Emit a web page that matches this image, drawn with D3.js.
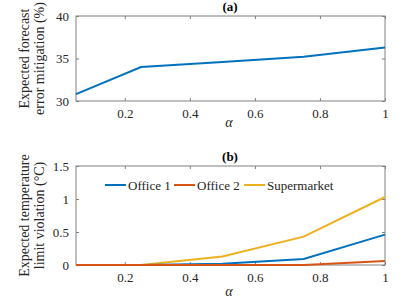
<!DOCTYPE html>
<html><head><meta charset="utf-8">
<script src="https://cdn.jsdelivr.net/npm/d3@7"></script>
<style>
body{margin:0;background:#fff;}
</style></head><body>
<svg id="c" width="403" height="301"></svg>
<script>
const alpha = [0.05, 0.25, 0.5, 0.75, 1];
const mitigation = [30.8, 34.0, 34.6, 35.2, 36.3];
const office1 = [0, 0, 0.02, 0.09, 0.46];
const office2 = [0, 0, 0, 0, 0.06];
const supermarket = [0, 0, 0.13, 0.43, 1.03];
const seriesNames = ["Office 1", "Office 2", "Supermarket"];
const seriesColors = ["#0072BD", "#D95319", "#EDB120"];
const xTicks = [0.2, 0.4, 0.6, 0.8, 1];
const yTicksA = [30, 35, 40];
const yTicksB = [0, 0.5, 1, 1.5];

const FONT = "'Liberation Serif', 'Times New Roman', Times, serif";
const svg = d3.select("#c");
const L = 76, R = 385;
const x = d3.scaleLinear().domain([0.05, 1]).range([L, R]);
const axisCol = "#262626";

function panel(top, bottom, yDomain, yTicks, title, ylab, series, alphaY) {
  const y = d3.scaleLinear().domain(yDomain).range([bottom, top]);
  const g = svg.append("g");
  g.append("rect").attr("x", L).attr("y", top).attr("width", R - L).attr("height", bottom - top)
    .attr("fill", "none").attr("stroke", "#808080").attr("stroke-width", 1);
  const ax = g.append("g").attr("transform", `translate(0,${bottom})`)
    .call(d3.axisBottom(x).tickValues(xTicks).tickSizeInner(-3).tickSizeOuter(0).tickPadding(8).tickFormat(d3.format("")));
  const axTop = g.append("g").attr("transform", `translate(0,${top})`)
    .call(d3.axisTop(x).tickValues(xTicks).tickSizeInner(-3).tickSizeOuter(0).tickFormat(""));
  const ay = g.append("g").attr("transform", `translate(${L},0)`)
    .call(d3.axisLeft(y).tickValues(yTicks).tickSizeInner(-3).tickSizeOuter(0).tickPadding(7).tickFormat(d3.format("")));
  const ayR = g.append("g").attr("transform", `translate(${R},0)`)
    .call(d3.axisRight(y).tickValues(yTicks).tickSizeInner(-3).tickSizeOuter(0).tickFormat(""));
  [ax, axTop, ay, ayR].forEach(a => {
    a.attr("font-family", FONT).attr("font-size", 13);
    a.select(".domain").remove();
    a.selectAll("line").attr("stroke", "#808080");
    a.selectAll("text").attr("fill", axisCol);
  });
  series.forEach(s => {
    g.append("path").datum(s.values.map((v, i) => [alpha[i], v]))
      .attr("fill", "none").attr("stroke", s.color).attr("stroke-width", 2)
      .attr("d", d3.line().x(d => x(d[0])).y(d => y(d[1])));
  });
  g.append("text").attr("x", 230).attr("y", top - 5).attr("text-anchor", "middle")
    .attr("font-family", FONT).attr("font-size", 13).attr("font-weight", "bold").attr("fill", "#000").text(title);
  const cy = (top + bottom) / 2;
  ylab.forEach((t, i) => {
    g.append("text").attr("transform", `translate(${29 + i * 15},${cy}) rotate(-90)`)
      .attr("text-anchor", "middle").attr("font-family", FONT).attr("font-size", 14).attr("fill", axisCol).text(t);
  });
  g.append("text").attr("x", 229).attr("y", alphaY).attr("text-anchor", "middle")
    .attr("font-family", FONT).attr("font-size", 14).attr("font-style", "italic").attr("fill", axisCol).text("α");
  return y;
}

panel(16, 101, [30, 40], yTicksA, "(a)", ["Expected forecast", "error mitigation (%)"],
  [{values: mitigation, color: seriesColors[0]}], 127);

const bVals = [office1, office2, supermarket];
panel(166, 265, [0, 1.5], yTicksB, "(b)", ["Expected temperature", "limit violation (°C)"],
  [2, 0, 1].map(i => ({values: bVals[i], color: seriesColors[i]})), 296);

const legX = [105, 174, 244];
const lg = svg.append("g");
seriesNames.forEach((n, i) => {
  lg.append("line").attr("x1", legX[i]).attr("x2", legX[i] + 21).attr("y1", 185).attr("y2", 185)
    .attr("stroke", seriesColors[i]).attr("stroke-width", 2);
  lg.append("text").attr("x", legX[i] + 23).attr("y", 189.5).attr("font-family", FONT)
    .attr("font-size", 13).attr("fill", axisCol).text(n);
});
</script>
</body></html>
